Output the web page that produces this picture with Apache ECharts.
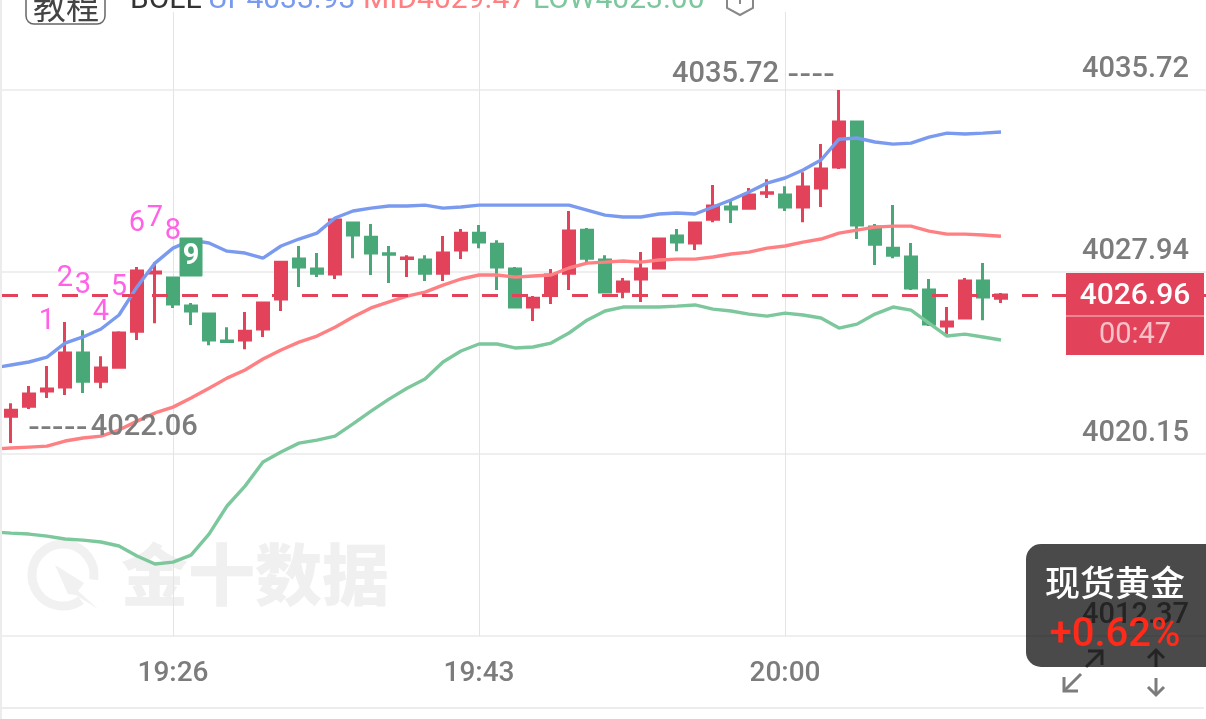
<!DOCTYPE html>
<html>
<head>
<meta charset="utf-8">
<style>html,body{margin:0;padding:0;background:#fff}#main{width:1206px;height:719px}</style>
<script src="https://cdn.jsdelivr.net/npm/echarts@6/dist/echarts.min.js"></script>
</head>
<body>
<div id="main"></div>
<script>
// first slot is the empty minute left of the first candle, the last ones keep the room for the price scale
var times = ['', '19:17', '19:18', '19:19', '19:20', '19:21', '19:22', '19:23', '19:24', '19:25', '19:26', '19:27', '19:28', '19:29', '19:30', '19:31', '19:32', '19:33', '19:34', '19:35', '19:36', '19:37', '19:38', '19:39', '19:40', '19:41', '19:42', '19:43', '19:44', '19:45', '19:46', '19:47', '19:48', '19:49', '19:50', '19:51', '19:52', '19:53', '19:54', '19:55', '19:56', '19:57', '19:58', '19:59', '20:00', '20:01', '20:02', '20:03', '20:04', '20:05', '20:06', '20:07', '20:08', '20:09', '20:10', '20:11', '20:12', '20:13', '20:14', '20:15', '20:16', '20:17', '20:18', '20:19', '20:20', '20:21', '20:22', '20:23', '20:24'];
var timeLabels = ['19:26', '19:43', '20:00'];
var priceTicks = [4035.72, 4027.94, 4020.15, 4012.37];

var opens = [4021.77, 4022.20, 4022.85, 4023.02, 4024.47, 4023.27, 4023.87, 4025.41, 4027.90, 4027.68, 4026.48, 4026.14, 4024.99, 4025.03, 4025.50, 4026.78, 4028.49, 4028.07, 4027.85, 4030.03, 4029.43, 4028.72, 4028.52, 4028.45, 4027.89, 4028.88, 4029.60, 4029.13, 4028.07, 4026.44, 4026.95, 4027.89, 4029.73, 4028.45, 4027.12, 4027.64, 4028.11, 4029.48, 4029.18, 4030.20, 4030.72, 4030.67, 4031.31, 4031.23, 4030.72, 4031.53, 4032.43, 4034.35, 4029.86, 4028.96, 4028.58, 4027.17, 4025.63, 4025.97, 4027.55, 4026.82];
var closes = [4022.03, 4022.72, 4022.93, 4024.47, 4023.27, 4023.83, 4025.33, 4027.98, 4027.94, 4026.57, 4026.27, 4025.03, 4024.97, 4025.41, 4026.61, 4028.36, 4028.15, 4027.89, 4030.16, 4029.52, 4028.75, 4028.70, 4028.54, 4027.89, 4028.75, 4029.60, 4029.22, 4028.15, 4026.44, 4026.82, 4027.81, 4029.69, 4028.53, 4027.08, 4027.51, 4028.07, 4029.35, 4029.22, 4030.03, 4030.76, 4030.63, 4031.23, 4031.33, 4030.72, 4031.57, 4032.34, 4034.35, 4029.95, 4029.13, 4028.66, 4027.25, 4025.71, 4025.80, 4027.55, 4026.87, 4026.96];
var lows = [4020.62, 4022.08, 4022.55, 4022.68, 4022.76, 4022.97, 4023.83, 4025.03, 4025.75, 4026.40, 4025.67, 4024.81, 4024.90, 4024.64, 4025.16, 4026.27, 4027.30, 4027.72, 4027.64, 4028.53, 4027.81, 4027.47, 4027.72, 4027.55, 4027.55, 4028.49, 4028.96, 4027.17, 4026.40, 4025.84, 4026.57, 4027.17, 4028.28, 4027.04, 4026.82, 4026.66, 4028.07, 4028.83, 4028.88, 4030.07, 4030.03, 4030.63, 4031.10, 4030.55, 4030.07, 4030.72, 4032.34, 4029.35, 4028.24, 4028.53, 4027.17, 4025.63, 4025.28, 4025.93, 4025.88, 4026.61];
var highs = [4022.33, 4023.06, 4023.92, 4025.80, 4025.45, 4024.34, 4025.41, 4028.15, 4028.36, 4027.72, 4026.61, 4026.18, 4025.58, 4026.23, 4026.66, 4028.41, 4029.05, 4028.75, 4030.20, 4030.07, 4029.99, 4029.05, 4028.66, 4028.66, 4029.48, 4029.78, 4029.95, 4029.30, 4028.15, 4026.91, 4028.07, 4030.55, 4029.82, 4028.66, 4027.68, 4028.79, 4029.39, 4029.78, 4030.07, 4031.66, 4031.02, 4031.53, 4031.91, 4031.61, 4032.21, 4033.41, 4035.72, 4034.39, 4029.99, 4030.80, 4029.18, 4027.64, 4026.44, 4027.68, 4028.32, 4027.04];

var bollUp = [4023.83, 4023.96, 4024.09, 4024.30, 4024.90, 4025.16, 4025.50, 4026.10, 4027.30, 4028.32, 4028.96, 4029.30, 4029.18, 4028.83, 4028.75, 4028.53, 4029.05, 4029.35, 4029.60, 4030.25, 4030.55, 4030.67, 4030.76, 4030.76, 4030.80, 4030.67, 4030.72, 4030.80, 4030.80, 4030.80, 4030.80, 4030.80, 4030.80, 4030.59, 4030.37, 4030.29, 4030.29, 4030.42, 4030.46, 4030.42, 4030.72, 4031.02, 4031.36, 4031.74, 4031.96, 4032.30, 4032.73, 4033.62, 4033.67, 4033.50, 4033.41, 4033.45, 4033.71, 4033.88, 4033.84, 4033.88, 4033.93];
var bollMid = [4020.37, 4020.41, 4020.45, 4020.49, 4020.71, 4020.84, 4020.92, 4021.18, 4021.56, 4021.91, 4022.16, 4022.55, 4022.97, 4023.40, 4023.75, 4024.22, 4024.60, 4024.94, 4025.20, 4025.58, 4026.01, 4026.40, 4026.66, 4026.91, 4027.08, 4027.38, 4027.64, 4027.81, 4027.81, 4027.72, 4027.77, 4027.81, 4028.11, 4028.32, 4028.36, 4028.41, 4028.36, 4028.45, 4028.49, 4028.49, 4028.58, 4028.71, 4028.79, 4028.96, 4029.05, 4029.22, 4029.35, 4029.60, 4029.73, 4029.86, 4029.90, 4029.90, 4029.69, 4029.56, 4029.56, 4029.52, 4029.47];
var bollLow = [4016.82, 4016.77, 4016.73, 4016.64, 4016.52, 4016.47, 4016.39, 4016.22, 4015.79, 4015.45, 4015.53, 4015.83, 4016.73, 4017.93, 4018.78, 4019.81, 4020.24, 4020.62, 4020.75, 4020.92, 4021.44, 4021.99, 4022.50, 4022.97, 4023.36, 4024.09, 4024.56, 4024.86, 4024.86, 4024.69, 4024.73, 4024.90, 4025.33, 4025.88, 4026.27, 4026.44, 4026.44, 4026.44, 4026.48, 4026.53, 4026.35, 4026.27, 4026.14, 4026.05, 4026.18, 4026.10, 4025.97, 4025.54, 4025.71, 4026.14, 4026.44, 4026.31, 4025.75, 4025.20, 4025.28, 4025.16, 4025.03];

// nine count above the candles
var countTimes = ['19:19', '19:20', '19:21', '19:22', '19:23', '19:24', '19:25', '19:26', '19:27'];
var countPrices = [4025.93, 4027.77, 4027.47, 4026.31, 4027.38, 4030.12, 4030.33, 4029.78, 4028.58];

var lastPrice = 4026.96;
var highTime = '20:03', highPrice = 4035.72;
var lowTime = '19:17', lowPrice = 4020.62, lowText = '4022.06';

var RED = '#e2435a', GREEN = '#49a878', GREY = '#7c7c7c';
var NUM = 'Roboto', CJK = '"Noto Sans CJK SC"';

var candles = [['-', '-', '-', '-']];
for (var i = 0; i < opens.length; i++) {
  candles.push([opens[i], closes[i], lows[i], highs[i]]);
}

var countData = countPrices.map(function (p, i) {
  var item = { value: [countTimes[i], p] };
  if (i === 8) {
    item.label = {
      color: '#fff', fontWeight: 'bold', backgroundColor: GREEN, offset: [0, 0],
      width: 23, height: 39, lineHeight: 39, align: 'center', verticalAlign: 'middle', borderRadius: 1
    };
  }
  return item;
});

function text(x, y, str, size, color, extra) {
  var style = { x: x, y: y, text: str, fontSize: size, fill: color, fontFamily: NUM, align: 'center', verticalAlign: 'middle' };
  for (var k in extra) style[k] = extra[k];
  return { type: 'text', z: 50, style: style };
}
function poly(points, color, width) {
  return { type: 'polyline', z: 50, shape: { points: points }, style: { stroke: color, lineWidth: width, fill: null } };
}
function box(x, y, w, h, color, r) {
  return { type: 'rect', z: 50, shape: { x: x, y: y, width: w, height: h, r: r || 0 }, style: { fill: color } };
}

var graphics = [
  // watermark
  { type: 'arc', z: 0, shape: { cx: 63, cy: 575, r: 31, startAngle: 0.95, endAngle: 0.15, clockwise: true }, style: { stroke: '#f1f1f1', lineWidth: 9, fill: null } },
  { type: 'polygon', z: 0, shape: { points: [[55, 565], [84, 583], [78, 591], [98, 609], [76, 595], [68, 594]] }, style: { fill: '#f1f1f1' } },
  { type: 'text', z: 0, style: { x: 121, y: 575, text: '金十数据', fontFamily: CJK, fontWeight: 900, fontSize: 67, fill: '#f0f0f0', align: 'left', verticalAlign: 'middle' } },
  // page edge and lower rule
  box(0, 0, 2, 719, '#ececec'),
  box(2, 707, 1202, 2, '#ececec'),
  // header
  { type: 'rect', z: 50, shape: { x: 26, y: -12, width: 79, height: 36, r: 8 }, style: { stroke: '#666', lineWidth: 1.5, fill: '#fff' } },
  text(66, 6, '教程', 33, '#444', { fontFamily: CJK }),
  text(130, 15, 'BOLL', 30, '#333', { align: 'left', verticalAlign: 'bottom' }),
  text(208, 15, 'UP4033.93', 30, '#7a9af0', { align: 'left', verticalAlign: 'bottom' }),
  text(363, 15, 'MID4029.47', 30, '#ff8083', { align: 'left', verticalAlign: 'bottom' }),
  text(533, 15, 'LOW4023.00', 30, '#7cc79c', { align: 'left', verticalAlign: 'bottom' }),
  poly([[727, 0], [727, 8], [740, 15], [753, 8], [753, 0]], '#888', 2),
  box(739, 0, 2, 4, '#888'),
  // price box
  box(1066, 273, 138, 82, RED),
  box(1066, 315, 138, 2, '#ee8592'),
  text(1135, 296, '4026.96', 30, '#fff', { fontWeight: 500 }),
  text(1135, 336, '00:47', 29, '#f9c2c9'),
  // arrows under the toast
  poly([[1081, 674], [1064, 691]], GREY, 3),
  poly([[1064, 677], [1064, 691], [1078, 691]], GREY, 3),
  poly([[1156, 678], [1156, 695]], GREY, 3),
  poly([[1148, 687], [1156, 695], [1164, 687]], GREY, 3),
  poly([[1086, 667], [1102, 651]], GREY, 3),
  poly([[1088, 651], [1102, 651], [1102, 665]], GREY, 3),
  poly([[1156, 667], [1156, 650]], GREY, 3),
  poly([[1148, 658], [1156, 650], [1164, 658]], GREY, 3),
  // toast
  { type: 'rect', z: 60, shape: { x: 1026, y: 544, width: 200, height: 123, r: 15 }, style: { fill: 'rgba(0,0,0,0.71)' } },
  { type: 'text', z: 61, style: { x: 1115, y: 583, text: '现货黄金', fontFamily: CJK, fontWeight: 500, fontSize: 35, fill: '#fff', align: 'center', verticalAlign: 'middle' } },
  { type: 'text', z: 61, style: { x: 1115, y: 636, text: '+0.62%', fontFamily: NUM, fontWeight: 500, fontSize: 40, fill: '#ff2a1a', align: 'center', verticalAlign: 'middle' } }
];

var chart = echarts.init(document.getElementById('main'), null, { width: 1206, height: 719 });

chart.setOption({
  animation: false,
  backgroundColor: '#fff',
  grid: { left: -7, top: 12, width: 1224, height: 624, outerBoundsMode: 'none' },
  xAxis: {
    type: 'category',
    data: times,
    boundaryGap: false,
    axisLine: { show: false },
    axisTick: { show: false },
    axisLabel: {
      margin: 24,
      fontFamily: NUM,
      fontWeight: 500,
      fontSize: 28,
      color: GREY,
      interval: function (idx, val) { return timeLabels.indexOf(val) >= 0; }
    },
    splitLine: {
      show: true,
      lineStyle: { color: '#e4e4e4', width: 1 },
      interval: function (idx, val) { return timeLabels.indexOf(val) >= 0; }
    }
  },
  yAxis: {
    type: 'value',
    position: 'right',
    min: 4012.37,
    max: 4039.06,
    axisLine: { show: false },
    axisTick: { show: false, customValues: priceTicks },
    axisLabel: {
      inside: true,
      customValues: priceTicks,
      margin: 28,
      fontFamily: NUM,
      fontWeight: 500,
      fontSize: 29,
      color: GREY,
      verticalAlign: 'bottom',
      padding: [0, 0, 6, 0],
      showMinLabel: true,
      showMaxLabel: true,
      formatter: function (v) { return v.toFixed(2); }
    },
    splitLine: { show: true, lineStyle: { color: '#efefef', width: 2 } }
  },
  series: [
    {
      type: 'line',
      data: [],
      z: 1,
      markLine: {
        silent: true,
        symbol: 'none',
        animation: false,
        label: { show: false },
        lineStyle: { color: RED, width: 3, type: [16, 14], dashOffset: 21 },
        data: [{ yAxis: lastPrice }]
      }
    },
    {
      type: 'candlestick',
      data: candles,
      barWidth: 12,
      z: 3,
      clip: false,
      itemStyle: { color: RED, color0: GREEN, borderColor: RED, borderColor0: GREEN, borderWidth: 3 },
      markPoint: {
        symbolSize: 0,
        animation: false,
        data: [
          {
            coord: [highTime, highPrice],
            label: {
              show: true, position: 'left', distance: 4, offset: [0, -15],
              formatter: '{v|' + highPrice.toFixed(2) + '} {d|----}',
              rich: {
                v: { fontFamily: NUM, fontWeight: 500, fontSize: 29, color: GREY, padding: [0, 5, 0, 0] },
                d: { fontFamily: 'DejaVu Sans', fontSize: 33, color: GREY }
              }
            }
          },
          {
            coord: [lowTime, lowPrice],
            label: {
              show: true, position: 'right', distance: 17, offset: [0, -15],
              formatter: '{d|-----} {v|' + lowText + '}',
              rich: {
                v: { fontFamily: NUM, fontWeight: 500, fontSize: 29, color: GREY },
                d: { fontFamily: 'DejaVu Sans', fontSize: 33, color: GREY }
              }
            }
          }
        ]
      }
    },
    { type: 'line', data: bollUp, z: 4, symbol: 'none', lineStyle: { color: '#7a9af0', width: 3.4 } },
    { type: 'line', data: bollMid, z: 4, symbol: 'none', lineStyle: { color: '#ff8083', width: 3.4 } },
    { type: 'line', data: bollLow, z: 4, symbol: 'none', lineStyle: { color: '#7cc79c', width: 3.4 } },
    {
      type: 'scatter',
      data: countData,
      z: 5,
      symbolSize: 0,
      itemStyle: { opacity: 1 },
      label: {
        show: true,
        position: 'inside',
        offset: [0, 3],
        fontFamily: NUM,
        fontSize: 29,
        color: '#ff62e6',
        formatter: function (p) { return String(p.dataIndex + 1); }
      }
    }
  ],
  graphic: { elements: graphics }
});
</script>
</body>
</html>
